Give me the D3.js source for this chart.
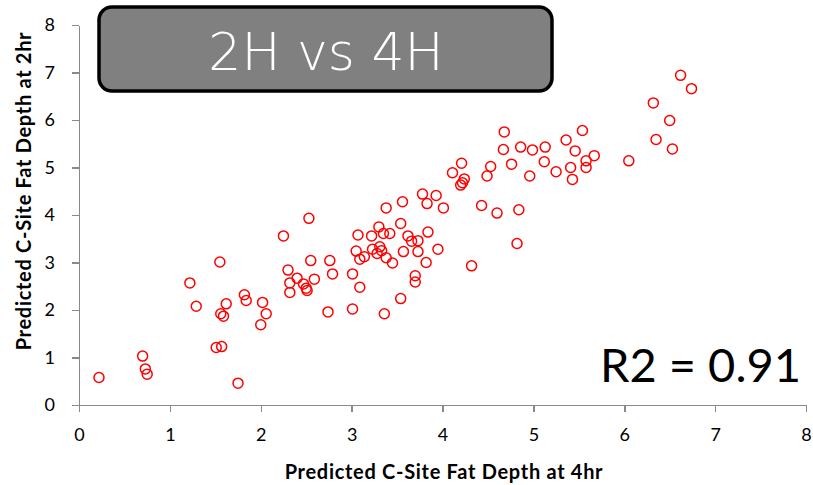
<!DOCTYPE html>
<html>
  <head>
    <title>2H vs 4H</title>
    <script src="https://d3js.org/d3.v7.min.js"></script>
    <style>
        body { margin: 0; background: #fff; }
        .axis text {
        font: 18px Lato, sans-serif;
        fill: #000;
        }
        .axis path,
        .axis line {
        fill: none;
        stroke: #898989;
        stroke-width: 1.5px;
        shape-rendering: crispEdges;
        }
        .axis-title {
        font: bold 20px Lato, sans-serif;
        letter-spacing: 0.7px;
        text-anchor: middle;
        }
        .dot {
        fill: none;
        stroke: red;
        stroke-width: 1.5px;
        }
    </style>
  </head>
  <body>
    <svg width="813" height="485"></svg>
    <script>
        // fat depth predicted at 4hr (x) and at 2hr (y)
        const depth4hr = [
            0.22, 0.70, 0.73, 0.75, 1.22, 1.29, 1.55, 1.51, 1.57, 1.56,
            1.59, 1.62, 1.75, 1.82, 1.84, 2.02, 2.00, 2.06, 2.25, 2.30,
            2.32, 2.32, 2.40, 2.47, 2.50, 2.51, 2.59, 2.55, 2.53, 2.74,
            2.76, 2.79, 3.01, 3.01, 3.09, 3.05, 3.07, 3.09, 3.14, 3.22,
            3.23, 3.28, 3.30, 3.31, 3.33, 3.35, 3.38, 3.42, 3.38, 3.36,
            3.45, 3.54, 3.56, 3.57, 3.54, 3.62, 3.66, 3.73, 3.73, 3.70,
            3.70, 3.82, 3.84, 3.95, 3.78, 3.83, 3.93, 4.01, 4.11, 4.21,
            4.24, 4.22, 4.20, 4.32, 4.43, 4.49, 4.53, 4.60, 4.68, 4.67,
            4.76, 4.84, 4.82, 4.86, 4.99, 4.96, 5.13, 5.12, 5.25, 5.36,
            5.54, 5.46, 5.41, 5.43, 5.58, 5.58, 5.67, 6.05, 6.32, 6.35,
            6.53, 6.50, 6.62, 6.74
        ];
        const depth2hr = [
            0.58, 1.03, 0.76, 0.65, 2.57, 2.08, 3.01, 1.21, 1.23, 1.92,
            1.87, 2.13, 0.46, 2.32, 2.20, 2.16, 1.69, 1.92, 3.56, 2.84,
            2.57, 2.37, 2.67, 2.55, 2.46, 2.41, 2.65, 3.04, 3.93, 1.96,
            3.04, 2.76, 2.02, 2.76, 2.48, 3.24, 3.58, 3.07, 3.12, 3.56,
            3.28, 3.19, 3.75, 3.33, 3.25, 3.61, 3.10, 3.61, 4.15, 1.92,
            2.99, 3.82, 4.28, 3.23, 2.24, 3.56, 3.45, 3.46, 3.23, 2.72,
            2.59, 3.00, 3.64, 3.28, 4.44, 4.24, 4.41, 4.15, 4.89, 5.09,
            4.76, 4.68, 4.63, 2.93, 4.20, 4.82, 5.02, 4.04, 5.75, 5.38,
            5.07, 4.11, 3.40, 5.43, 5.37, 4.82, 5.43, 5.12, 4.91, 5.58,
            5.78, 5.35, 5.00, 4.75, 5.14, 5.00, 5.25, 5.14, 6.36, 5.59,
            5.39, 5.99, 6.94, 6.66
        ];
        const axisTicks = [0, 1, 2, 3, 4, 5, 6, 7, 8];
        const points = depth4hr.map((v, i) => ({x: v, y: depth2hr[i]}));

        const svg = d3.select("svg");

        // plot area edges in page pixels
        const plotLeft = 79, plotRight = 806, plotTop = 25, plotBottom = 405;

        const x = d3.scaleLinear().domain([0, 8]).range([plotLeft, plotRight]);
        const y = d3.scaleLinear().domain([0, 8]).range([plotBottom, plotTop]);

        const xAxis = d3.axisBottom(x)
            .tickValues(axisTicks)
            .tickSize(7)
            .tickSizeOuter(0)
            .tickPadding(16)
            .tickFormat(d3.format("d"));

        const yAxis = d3.axisLeft(y)
            .tickValues(axisTicks)
            .tickSize(7)
            .tickSizeOuter(0)
            .tickPadding(17)
            .tickFormat(d3.format("d"));

        svg.append("g")
            .attr("class", "axis")
            .attr("transform", `translate(0,${plotBottom})`)
            .call(xAxis);

        svg.append("g")
            .attr("class", "axis")
            .attr("transform", `translate(${plotLeft},0)`)
            .call(yAxis);

        // points
        svg.selectAll(".dot")
            .data(points)
            .enter().append("circle")
            .attr("class", "dot")
            .attr("cx", d => x(d.x))
            .attr("cy", d => y(d.y))
            .attr("r", 5);

        // axis titles
        svg.append("text")
            .attr("class", "axis-title")
            .attr("x", 444)
            .attr("y", 479)
            .text("Predicted C-Site Fat Depth at 4hr");

        svg.append("text")
            .attr("class", "axis-title")
            .attr("transform", "translate(31,191) rotate(-90)")
            .text("Predicted C-Site Fat Depth at 2hr");

        // title box
        svg.append("rect")
            .attr("x", 99)
            .attr("y", 7)
            .attr("width", 453)
            .attr("height", 84)
            .attr("rx", 13)
            .style("fill", "#808080")
            .style("stroke", "#000")
            .style("stroke-width", 3.5);

        svg.append("text")
            .attr("x", 326)
            .attr("y", 70)
            .attr("text-anchor", "middle")
            .style("font", "200 52px 'DejaVu Sans', sans-serif")
            .style("fill", "#fff")
            .text("2H vs 4H");

        // r squared note
        svg.append("text")
            .attr("x", 801)
            .attr("y", 382)
            .attr("text-anchor", "end")
            .style("font", "47px Lato, sans-serif")
            .style("fill", "#000")
            .text("R2 = 0.91");
    </script>
  </body>
</html>
